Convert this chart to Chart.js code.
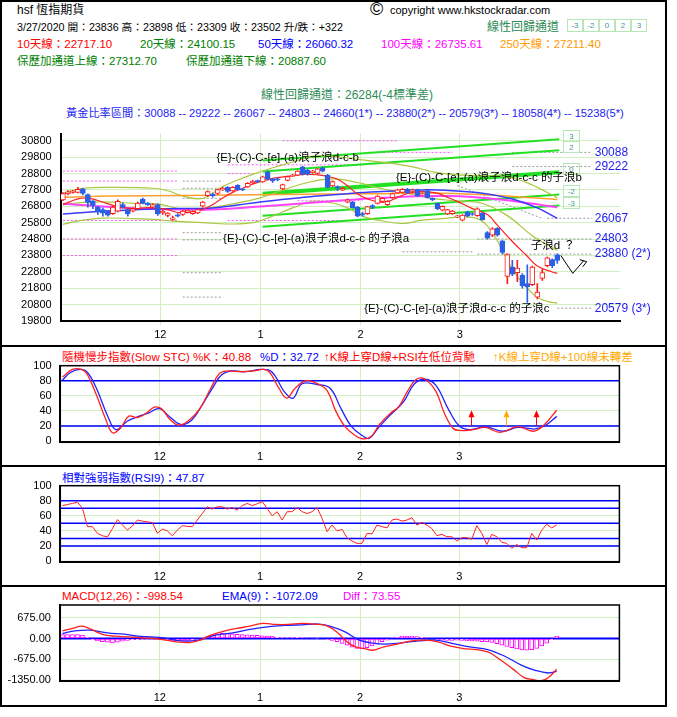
<!DOCTYPE html>
<html>
<head>
<meta charset="utf-8">
<title>hsf 恆指期貨</title>
<script src="https://cdn.jsdelivr.net/npm/chart.js@4.4.1/dist/chart.umd.min.js"></script>
<style>
  body { margin: 0; width: 677px; height: 717px; background: #fff; position: relative; overflow: hidden;
         font-family: "Liberation Sans", "Noto Sans CJK TC", sans-serif; }
  .t { position: absolute; white-space: nowrap; font-size: 11.5px; line-height: 14px; }
  canvas { position: absolute; left: 0; }
  .frame { position: absolute; left: 0; top: 0; width: 663px; height: 703px; border: 2px solid #000; }
  .sep { position: absolute; left: 0; width: 667px; height: 2px; background: #000; }
  .box { position: absolute; top: 19px; width: 14px; height: 11px; border: 1px solid #b4e8b4;
         font-size: 8px; line-height: 11px; text-align: center; color: #3d9a8a; }
</style>
</head>
<body>
<div class="frame"></div>
<div class="sep" style="top:345px"></div>
<div class="sep" style="top:465px"></div>
<div class="sep" style="top:585px"></div>

<div class="t" style="left:17px;top:2.5px;font-size:12px">hsf 恆指期貨</div>
<div class="t" style="left:370px;top:-1px;font-size:18px;line-height:20px">©</div>
<div class="t" style="left:390px;top:2.5px;font-size:11px">copyright www.hkstockradar.com</div>
<div class="t" style="left:17px;top:19.5px;font-size:10.7px">3/27/2020 開：23836 高：23898 低：23309 收：23502 升/跌：+322</div>
<div class="t" style="left:487px;top:19.5px;font-size:12px;color:#2e8b57">線性回歸通道</div>
<div class="box" style="left:567px">-3</div>
<div class="box" style="left:583px">-2</div>
<div class="box" style="left:599px">0</div>
<div class="box" style="left:615px">2</div>
<div class="box" style="left:631px">3</div>
<div class="t" style="left:17px;top:37px;color:#ff0000">10天線：22717.10</div>
<div class="t" style="left:140px;top:37px;color:#008000">20天線：24100.15</div>
<div class="t" style="left:258px;top:37px;color:#0000ff">50天線：26060.32</div>
<div class="t" style="left:381px;top:37px;color:#ff00ff">100天線：26735.61</div>
<div class="t" style="left:500px;top:37px;color:#ff9900">250天線：27211.40</div>
<div class="t" style="left:17px;top:54px;color:#008000">保歷加通道上線：27312.70</div>
<div class="t" style="left:186px;top:54px;color:#008000">保歷加通道下線：20887.60</div>
<div class="t" style="left:261px;top:88px;font-size:12px;color:#2e8b57">線性回歸通道：26284(-4標準差)</div>
<div class="t" style="left:66px;top:105.5px;font-size:11.2px;color:#1c1cf0">黃金比率區間：30088 -- 29222 -- 26067 -- 24803 -- 24660(1*) -- 23880(2*) -- 20579(3*) -- 18058(4*) -- 15238(5*)</div>

<div class="t" style="left:62px;top:349.5px;color:#ff0000">隨機慢步指數(Slow STC) %K：40.88</div>
<div class="t" style="left:260px;top:349.5px;color:#0000ff">%D：32.72</div>
<div class="t" style="left:324px;top:349.5px;color:#ff0000">↑K線上穿D線+RSI在低位背馳</div>
<div class="t" style="left:493px;top:349.5px;color:#ffaa00">↑K線上穿D線+100線未轉差</div>
<div class="t" style="left:62px;top:470.5px;color:#0000ff">相對強弱指數(RSI9)：47.87</div>
<div class="t" style="left:62px;top:589px;color:#ff0000">MACD(12,26)：-998.54</div>
<div class="t" style="left:222px;top:589px;color:#0000ff">EMA(9)：-1072.09</div>
<div class="t" style="left:343px;top:589px;color:#ff00ff">Diff：73.55</div>

<canvas id="price" width="677" height="228" style="top:118px"></canvas>
<canvas id="stoch" width="677" height="117" style="top:348px"></canvas>
<canvas id="rsi" width="677" height="120" style="top:467px"></canvas>
<canvas id="macd" width="677" height="118" style="top:588px"></canvas>

<script>
// daily candles, index 0 = first trading day shown (early Nov 2019), 99 = 27 Mar 2020
const opens = [27190,27560,27650,27650,27860,27520,27130,26750,26600,26520,
  26350,26500,26900,26600,26500,26650,27230,26980,26750,26900,
  26400,26250,26000,26280,26300,26450,26350,26400,26800,27450,
  27550,27580,27800,27950,27730,28080,27850,27980,28220,28330,
  28280,28890,28450,28450,27860,28380,28620,28700,29200,29000,
  28850,28810,29150,28700,28050,28000,27780,27050,27050,26750,
  26350,26350,26850,26980,27100,26900,27320,27610,27650,27840,
  27700,27800,27500,27750,27280,26980,26560,26340,26350,26150,
  25950,26450,26350,26220,26370,25190,25040,25450,24690,22520,
  23090,22750,22590,22080,22020,21260,22400,23170,23550,23836];
const highs = [27620,27760,27780,27950,27900,27560,27150,26800,26700,26550,
  26800,27200,27000,26650,26700,27050,27300,27020,26950,26950,
  26550,26420,26200,26350,26550,26600,26520,26650,27100,27750,
  27600,27850,27950,28000,28000,28120,27900,28250,28380,28400,
  28650,28950,28500,28550,28150,28650,28750,28980,29250,29050,
  29000,29100,29200,28750,28350,28050,27950,27250,27100,26800,
  26450,26800,26900,27450,27350,27150,27600,27850,27880,27900,
  27850,27850,27600,27800,27320,27000,26820,26620,26550,26250,
  26300,26500,26400,26700,26400,25250,25500,25500,24700,23900,
  23500,23500,22700,23220,23150,22080,22950,23700,23600,23898];
const lows = [27150,27500,27600,27620,27500,26750,26650,26300,26200,26200,
  26300,26450,26700,26200,26450,26600,26950,26850,26700,26250,
  26300,26150,25950,26150,26250,26400,26300,26350,26750,27400,
  27350,27520,27750,27650,27700,27780,27750,27950,28200,28250,
  28250,28400,28250,28350,27820,28350,28600,28680,28700,28700,
  28800,28780,28900,27900,28000,27750,27750,27000,26700,26150,
  26200,26300,26650,26950,27050,26850,27280,27580,27620,27580,
  27650,27400,27450,27300,27150,26600,26520,26300,26300,26100,
  25900,26150,26250,26180,25950,24800,24950,24980,23900,22080,
  22560,22200,21800,20930,21950,21140,22270,23100,23050,23309];
const closes = [27570,27680,27720,27840,27590,27040,26850,26470,26380,26260,
  26750,27100,26750,26330,26650,26990,26980,26880,26900,26330,
  26500,26380,26100,26200,26500,26550,26480,26600,27050,27700,
  27450,27820,27900,27700,27950,27800,27800,28200,28340,28300,
  28600,28470,28350,28420,28120,28620,28700,28950,28760,28760,
  28950,29080,28950,27950,28300,27900,27900,27200,26720,26200,
  26280,26780,26750,27420,27290,27100,27570,27800,27840,27610,
  27800,27420,27560,27330,27200,26660,26790,26600,26500,26180,
  26270,26200,26300,26650,25990,24850,25420,25040,23990,23850,
  22650,23030,21950,21890,23090,21560,22750,23660,23180,23502];

// averages and bands, [day index, value]
const ma10 = [[0,26900],[3,27250],[5,27300],[7,27150],[9,26950],[11,26780],[14,26660],[17,26720],[19,26680],
  [21,26600],[23,26420],[26,26460],[28,26600],[30,26900],[32,27300],[34,27650],[36,27900],[38,28150],[40,28350],
  [42,28500],[45,28620],[48,28750],[51,28720],[53,28620],[55,28450],[57,28050],[59,27550],[61,27250],[64,27040],
  [66,27200],[69,27580],[72,27700],[75,27600],[77,27350],[79,27100],[82,26660],[85,26300],[87,25650],[90,24650],
  [93,23750],[95,23150],[98,22790],[99,22717.1]];
const ma20 = [[0,26900],[5,27050],[10,27050],[14,26980],[19,26950],[24,26620],[29,26690],[34,26950],[39,27270],
  [44,27780],[49,28250],[54,28470],[59,28250],[64,27870],[69,27580],[74,27280],[79,27120],[84,26970],[89,26230],
  [94,25000],[99,24100.15]];
const bollUp = [[0,27600],[4,27900],[10,27950],[18,27900],[21,27750],[24,27420],[27,27250],[29,27400],[32,28000],
  [35,28400],[38,28750],[42,29150],[46,29500],[50,29850],[54,29850],[58,29700],[62,29550],[66,29420],[70,29200],
  [75,28850],[80,28700],[85,28650],[88,28650],[91,28450],[94,28100],[96,27800],[98,27500],[99,27312.7]];
const bollDown = [[0,25700],[4,25950],[8,26080],[14,26050],[18,26000],[22,25900],[28,25800],[33,25720],[38,25800],
  [42,26200],[46,26700],[50,27100],[54,27000],[57,26700],[60,26200],[64,25900],[68,25750],[72,25950],[76,26050],
  [80,26150],[83,26050],[85,25600],[87,24700],[89,23500],[91,22500],[93,21800],[95,21250],[97,21000],[99,20887.6]];
const ma50 = [[0,26330],[10,26520],[20,26650],[30,26700],[38,27000],[45,27250],[51,27420],[58,27600],[64,27700],
  [72,27800],[78,27750],[84,27600],[90,27250],[95,26700],[99,26060.32]];
const ma100 = [[0,26950],[10,26750],[20,26620],[30,26600],[38,26750],[51,27040],[64,27320],[77,27420],[88,27200],
  [99,26735.61]];
const ma250 = [[0,27350],[10,27420],[38,27500],[60,27560],[76,27600],[88,27450],[99,27211.4]];

// linear regression channel
const regStartX = 40, regEndX = 99.4;
const regStart = 27570, regEnd = 28870, regSd = 675;
const regLevels = [3, 2, 0, -2, -3];

// golden ratio levels and dotted guide lines: [level, from day, to day]
const fibValues = [30088, 29222, 26067, 24803, 23880, 20579];
const fibLabels = ['30088', '29222', '26067', '24803', '23880 (2*)', '20579 (3*)'];
const greyLines = [[28337,24,32],[27897,24,32],[27287,24,32],[25188,24,32],[24750,24,32],[22746,24,32],[21258,24,32],
  [24023,68,82],[30088,90,106],[29222,90,106],[26067,97,106],[24803,83,106],[23880,83,106],[20579,99,106]];
const pinkLines = [[28950,0,23],[28340,0,23],[25935,0,23],[24806,0,23],[23794,0,23],[30800,44,67],[30090,61,78],
  [29330,33,60],[28795,33,38],[25932,33,56],[27136,47,60]];
const greyDiag = [[79,28070],[96,26060]];

const waveNotes = ['{E}-(C)-C-[e]-(a)浪子浪d-c-b', '{E}-(C)-C-[e]-(a)浪子浪d-c-c 的子浪b',
  '{E}-(C)-C-[e]-(a)浪子浪d-c-c 的子浪a', '{E}-(C)-C-[e]-(a)浪子浪d-c-c 的子浪c'];
const waveX = [45.0, 85.3, 50.7, 78.9];
const waveY = [29770, 28510, 24807, 20514];
const arrowPath = [[99.7, 23800], [102.1, 22710], [104.3, 23480]];

// slow stochastic
const stochK = [[0,85],[2,95],[3.8,95],[5,88],[6.8,61],[8.6,30],[10,11],[11.6,17],[13.3,33],[15,31],[16.8,37],
  [18.4,45],[19.8,43],[21.5,29],[23.3,21],[25.4,28],[27.5,43],[29.7,70],[31.5,90],[33.2,93],[35.8,92],[38.4,93],
  [40.1,95],[41.4,92],[43.2,72],[44.9,57],[46.6,70],[48.8,80],[51.4,75],[53.1,66],[54.8,39],[56.6,19],[58.3,9],
  [60,3],[61.8,6],[63.5,22],[65.7,37],[67.4,46],[69.1,66],[70.9,82],[72.6,82],[74.8,66],[76.5,37],[78.2,17],
  [79.5,14],[82.1,15],[84.7,18],[87.7,11.5],[91.2,19],[94.3,13],[96.4,21],[99,40.88]];
const stochD = [[0,81],[1.6,91],[3.5,95],[5,91],[6.8,70],[9,34],[10.7,15],[12.9,26],[15,32],[17.2,37],[19.4,43],
  [21.5,32],[23.7,22],[25.9,28],[28,48],[30.2,72],[31.9,88],[34.1,93],[36.7,92],[39.7,95],[41.9,92],[44.5,65],
  [46.2,57],[48,76],[51,75],[53.6,70],[55.8,43],[57.9,19],[60.1,7],[61.4,3.5],[63.2,17],[65.3,32],[68.3,52],
  [70.5,76],[72.6,82],[74.8,74],[77.4,41],[79.5,20],[81.7,15],[84.7,19],[88.2,13],[91.2,18],[94.7,16],[96.8,21],
  [99,32.72]];
const signalX = [81.9, 88.8, 94.8];
const signalColors = ['#ff0000', '#ffaa00', '#ff0000'];

// RSI(9), one value per day
const rsi = [73.5,75,76.5,78,70,45.6,45.6,36.7,33.6,32,
  43,55,48,41,46.5,54.4,53,52,51,36.7,
  42.5,40,33.6,41,47,46,45.6,54.4,63,72,
  69,72,72,69,71,67.7,73.5,76.5,73.5,76,
  78.8,70,60,65.5,54.4,65.5,65.5,71,65.5,63,
  65.5,71,56.6,39,47.8,40,42,31,26.5,23.5,
  23.5,36.7,36,47.8,45.6,44,54.4,55.8,53,54.4,
  57.5,47.8,51.3,47.8,43,33.6,35.4,32.3,32.3,26.5,
  31,31,29,47,36.7,22,35.4,32.3,24.8,23.5,
  16.8,22,17.7,17.7,36.7,27.9,41,48.7,44,47.87];

// MACD
const macd = [[0,250],[2,327],[3.8,403],[5.1,348],[6.8,218],[8.6,109],[10.7,76],[13.3,54],[15.9,22],[18.5,0],
  [20.7,-54],[22.8,-109],[25.4,-131],[27.6,-54],[29.7,109],[32.4,240],[34.9,327],[37.5,403],[40.1,490],[42.7,457],
  [45.3,457],[47.9,490],[50.5,468],[53.1,403],[55.3,163],[57,-109],[58.7,-272],[60.5,-327],[62.2,-381],[64.4,-272],
  [67,-185],[69.6,-87],[72.6,-54],[75.2,-109],[77.8,-250],[80.4,-327],[83,-359],[85.2,-435],[86.9,-599],[88.6,-795],
  [90.4,-1012],[92.5,-1274],[94.3,-1339],[95.6,-1383],[97.3,-1274],[99,-998.54]];
const ema = [[0,163],[2.5,250],[5.5,272],[9,185],[12.4,141],[15,76],[17.7,54],[20.2,22],[23.7,-76],[27.2,-54],
  [30.6,109],[34.1,185],[37.5,294],[41,381],[44.5,425],[47.9,446],[51.4,468],[54,381],[56.6,218],[59.2,-33],
  [61.8,-141],[64.4,-185],[67.9,-141],[71.3,-76],[74.8,-54],[78.2,-163],[81.6,-272],[85.2,-359],[88.6,-577],
  [92,-871],[94.7,-1034],[97.3,-1121],[99,-1072.09]];
const diff = [130,130,130,130,110,50,-40,-80,-100,-120,
  -140,-120,-90,-60,-40,-40,-30,-20,-10,-20,
  -30,-50,-60,-70,-80,-80,-60,-30,20,60,
  110,150,170,160,150,140,130,120,110,100,
  90,80,70,40,30,30,30,40,30,20,
  20,10,0,-30,-60,-100,-160,-220,-280,-320,
  -330,-300,-240,-170,-100,-50,20,50,70,80,
  70,60,40,20,-20,-40,-50,-60,-60,-50,
  -60,-70,-80,-90,-100,-110,-130,-170,-220,-260,
  -300,-340,-370,-380,-360,-320,-240,-150,-40,73.55];

// x axis
const xMin = -0.44, xMax = 111.56;
const monthPos = [19.5, 39.6, 59.6, 79.5];
const monthNames = ['12', '1', '2', '3'];

const gridColor = '#d2efc2';
const upColor = '#ff1a1a', downColor = '#2b5fe6';

Chart.defaults.font.family = '"Liberation Sans", "Noto Sans CJK TC", sans-serif';
Chart.defaults.font.size = 11;
Chart.defaults.color = '#000';

const pts = a => a.map(p => ({ x: p[0], y: p[1] }));
const daily = a => a.map((v, i) => ({ x: i, y: v }));
const segs = list => list.flatMap(s => [{ x: s[1], y: s[0] }, { x: s[2], y: s[0] }, { x: s[2], y: null }]);
const flat = v => [{ x: xMin, y: v }, { x: xMax, y: v }];

function line(data, color, width, extra) {
    return Object.assign({
        type: 'line', data, borderColor: color, borderWidth: width,
        pointRadius: 0, tension: 0.4, fill: false, order: 5
    }, extra || {});
}

function xAxis(h, pad) {
    return {
        type: 'linear', min: xMin, max: xMax, offset: false,
        afterBuildTicks: a => { a.ticks = monthPos.map(v => ({ value: v })); },
        afterFit: a => { a.height = h; },
        grid: { offset: false, color: gridColor, tickLength: 4, tickColor: gridColor },
        border: { color: '#000', width: 2 },
        ticks: {
            padding: pad, maxRotation: 0, autoSkip: false, font: { size: 11 },
            callback: v => monthNames[monthPos.indexOf(v)]
        }
    };
}

function yAxis(min, max, ticks, fmt, w, pad) {
    return {
        type: 'linear', min, max,
        afterBuildTicks: a => { a.ticks = ticks.map(v => ({ value: v })); },
        afterFit: a => { a.width = w; },
        grid: { color: gridColor, drawTicks: false },
        border: { color: '#000', width: 2 },
        ticks: { padding: pad, autoSkip: false, font: { size: 11 }, callback: fmt }
    };
}

// black frame round the lower panels
const boxBorder = {
    id: 'boxBorder',
    afterDraw(chart) {
        const { ctx, chartArea: a } = chart;
        ctx.save();
        ctx.strokeStyle = '#000';
        ctx.lineWidth = 1.5;
        ctx.strokeRect(a.left, a.top, a.right - a.left, a.bottom - a.top);
        ctx.restore();
    }
};

const priceNotes = {
    id: 'priceNotes',
    afterDatasetsDraw(chart) {
        const { ctx, scales: { x, y } } = chart;
        ctx.save();
        // channel tags at the end of each line
        const tx = Math.round(x.getPixelForValue(regEndX)) + 4;
        ctx.font = '8px "Liberation Sans"';
        ctx.textAlign = 'center';
        ctx.textBaseline = 'middle';
        regLevels.forEach(k => {
            const ty = Math.round(y.getPixelForValue(regEnd + k * regSd)) - 3;
            ctx.strokeStyle = '#b4e8b4';
            ctx.lineWidth = 1;
            ctx.strokeRect(tx + 0.5, ty - 5.5, 16, 11);
            ctx.fillStyle = '#3d9a8a';
            ctx.fillText(String(k), tx + 8.5, ty + 0.5);
        });
        // golden ratio values
        ctx.font = '12px "Liberation Sans"';
        ctx.textAlign = 'left';
        ctx.fillStyle = '#1c1cf0';
        fibValues.forEach((v, k) => ctx.fillText(fibLabels[k], x.getPixelForValue(106.5), y.getPixelForValue(v)));
        // wave count notes
        ctx.font = '11.5px "Liberation Sans", "Noto Sans CJK TC"';
        ctx.fillStyle = '#000';
        ctx.textAlign = 'center';
        waveNotes.forEach((s, k) => ctx.fillText(s, x.getPixelForValue(waveX[k]), y.getPixelForValue(waveY[k])));
        ctx.textAlign = 'left';
        ctx.fillText('子浪d ？', x.getPixelForValue(93.7), y.getPixelForValue(24378));
        // zigzag arrow
        const p = arrowPath.map(q => [x.getPixelForValue(q[0]), y.getPixelForValue(q[1])]);
        ctx.strokeStyle = '#000';
        ctx.lineWidth = 1;
        ctx.beginPath();
        ctx.moveTo(p[0][0], p[0][1]);
        ctx.lineTo(p[1][0], p[1][1]);
        ctx.lineTo(p[2][0], p[2][1]);
        const tip = [p[2][0] + 3, p[2][1] + 1];
        ctx.moveTo(p[2][0] - 4, p[2][1] - 1);
        ctx.lineTo(tip[0], tip[1]);
        ctx.lineTo(tip[0] - 4, tip[1] + 5);
        ctx.stroke();
        ctx.restore();
    }
};

const stochArrows = {
    id: 'stochArrows',
    afterDatasetsDraw(chart) {
        const { ctx, scales: { x, y } } = chart;
        ctx.save();
        signalX.forEach((v, k) => {
            const px = Math.round(x.getPixelForValue(v)) + 0.5;
            const y0 = y.getPixelForValue(20), y1 = y.getPixelForValue(41);
            ctx.strokeStyle = ctx.fillStyle = signalColors[k];
            ctx.lineWidth = 1;
            ctx.beginPath();
            ctx.moveTo(px, y0);
            ctx.lineTo(px, y1 + 4);
            ctx.stroke();
            ctx.beginPath();
            ctx.moveTo(px, y1);
            ctx.lineTo(px - 3, y1 + 7);
            ctx.lineTo(px + 3, y1 + 7);
            ctx.closePath();
            ctx.fill();
        });
        ctx.restore();
    }
};

function panel(id, datasets, yCfg, pad, xH, xPad, plugins) {
    return new Chart(document.getElementById(id), {
        type: 'bar',
        data: { datasets },
        options: {
            responsive: false, animation: false, devicePixelRatio: 1,
            layout: { padding: pad },
            plugins: { legend: { display: false }, tooltip: { enabled: false } },
            scales: { x: xAxis(xH, xPad), y: yCfg }
        },
        plugins
    });
}

const isUp = i => closes[i] >= opens[i];

// price panel
const priceTicks = [];
for (let v = 19800; v <= 30800; v += 1000) priceTicks.push(v);

const priceSets = [
    line(segs(greyLines), '#9a9a9a', 1, { tension: 0, borderDash: [2, 2], order: 12 }),
    line(segs(pinkLines), '#ff55ff', 1, { tension: 0, borderDash: [2, 2], order: 12 }),
    line(pts(greyDiag), '#9a9a9a', 1, { tension: 0, borderDash: [2, 2], order: 12 }),
    ...regLevels.map(k => line(
        [{ x: regStartX, y: regStart + k * regSd }, { x: regEndX, y: regEnd + k * regSd }],
        '#22e022', k === 0 ? 4 : 2, { tension: 0, order: 11 })),
    line(pts(bollUp), '#abc63e', 1.2, { order: 10 }),
    line(pts(bollDown), '#abc63e', 1.2, { order: 10 }),
    line(pts(ma20), '#abc63e', 1.2, { order: 10 }),
    line(pts(ma250), '#ffa030', 1.5, { order: 9 }),
    line(pts(ma100), '#ff44ff', 2, { order: 8 }),
    line(pts(ma50), '#3a3aff', 1.5, { order: 7 }),
    line(pts(ma10), '#ff2020', 1.2, { order: 6 }),
    {
        type: 'bar', order: 2, grouped: false, barThickness: 1,
        data: opens.map((o, i) => ({ x: i, y: [lows[i], highs[i]] })),
        backgroundColor: c => isUp(c.dataIndex) ? upColor : downColor
    },
    {
        type: 'bar', order: 1, grouped: false, barThickness: 5, minBarLength: 1,
        data: opens.map((o, i) => ({ x: i, y: [o, closes[i]] })),
        backgroundColor: c => isUp(c.dataIndex) ? '#ffffff' : downColor,
        borderColor: c => isUp(c.dataIndex) ? upColor : downColor,
        borderWidth: 1, borderSkipped: false
    }
];
panel('price', priceSets,
    yAxis(19800, 31235, priceTicks, v => String(v), 60.7, 9),
    { left: 0, right: 57, top: 4, bottom: 0 }, 25, 3, [priceNotes]);

// slow stochastic panel
panel('stoch', [
    line(flat(80), '#0000ff', 1.5, { tension: 0, order: 9 }),
    line(flat(20), '#0000ff', 1.5, { tension: 0, order: 9 }),
    line(pts(stochD), '#2020ff', 1.3, { order: 6 }),
    line(pts(stochK), '#ff2020', 1.3, { order: 5 })
], yAxis(-1.7, 100, [0, 20, 40, 60, 80, 100], v => String(v), 60.3, 8.6),
    { left: 0, right: 57.6, top: 17.7, bottom: 0 }, 22.7, 4, [stochArrows, boxBorder]);

// RSI panel
panel('rsi', [
    ...[80, 70, 50, 30, 20].map(v => line(flat(v), '#0000ff', 1.5, { tension: 0, order: 9 })),
    line(daily(rsi), '#ff2020', 1, { tension: 0, order: 5 })
], yAxis(-0.9, 100, [0, 20, 40, 60, 80, 100], v => String(v), 60.3, 8.6),
    { left: 0, right: 57.6, top: 18.7, bottom: 0 }, 25.3, 5, [boxBorder]);

// MACD panel
panel('macd', [
    line(flat(0), '#0000ff', 2, { tension: 0, order: 9 }),
    {
        type: 'bar', order: 8, grouped: false, barThickness: 4,
        data: daily(diff),
        backgroundColor: '#ffffff', borderColor: '#ff00ff', borderWidth: 1, borderSkipped: false
    },
    line(pts(ema), '#2020ff', 1.3, { order: 6 }),
    line(pts(macd), '#ff2020', 1.3, { order: 5 })
], yAxis(-1372, 1090, [-1350, -675, 0, 675], v => v.toFixed(2), 60.3, 9.4),
    { left: 0, right: 57.6, top: 17, bottom: 0 }, 25.3, 7, [boxBorder]);
</script>
</body>
</html>
